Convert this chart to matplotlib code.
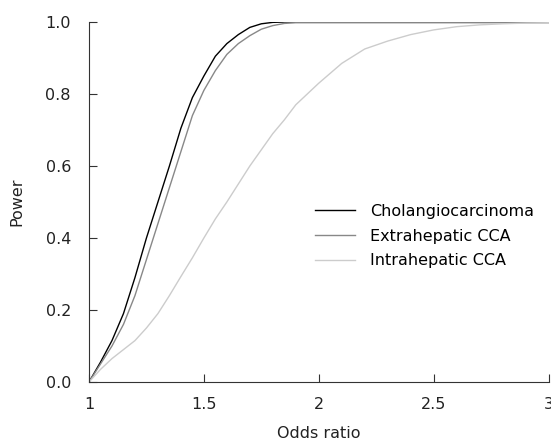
import matplotlib
matplotlib.use('Agg')
import matplotlib.pyplot as plt

odds_ratio = [1.0, 1.05, 1.1, 1.15, 1.2, 1.25, 1.3, 1.35, 1.4, 1.45, 1.5, 1.55, 1.6,
              1.65, 1.7, 1.75, 1.8, 1.85, 1.9, 1.95, 2.0, 2.1, 2.2, 2.3, 2.4, 2.5,
              2.6, 2.7, 2.8, 2.9, 3.0]
power_cca = [0.0, 0.055, 0.115, 0.19, 0.29, 0.40, 0.50, 0.60, 0.705, 0.79, 0.85, 0.905, 0.94,
             0.965, 0.985, 0.995, 0.999, 1.0, 1.0, 1.0, 1.0, 1.0, 1.0, 1.0, 1.0, 1.0,
             1.0, 1.0, 1.0, 1.0, 1.0]
power_extra = [0.0, 0.05, 0.10, 0.16, 0.24, 0.34, 0.44, 0.54, 0.64, 0.74, 0.81, 0.865, 0.91,
               0.94, 0.962, 0.98, 0.99, 0.996, 0.998, 0.998, 0.998, 0.998, 0.998, 0.998, 0.998, 0.998,
               0.998, 0.998, 0.998, 0.998, 0.998]
power_intra = [0.0, 0.035, 0.065, 0.09, 0.115, 0.15, 0.19, 0.24, 0.293, 0.345, 0.40, 0.453, 0.50,
               0.55, 0.60, 0.645, 0.69, 0.728, 0.77, 0.80, 0.83, 0.885, 0.925, 0.947, 0.965, 0.978,
               0.987, 0.992, 0.995, 0.997, 0.998]

labels = ['Cholangiocarcinoma', 'Extrahepatic CCA', 'Intrahepatic CCA']
colors = ['#000000', '#888888', '#cccccc']

plt.rcParams['font.family'] = ['DejaVu Sans']
plt.rcParams['font.size'] = 11.5

fig = plt.figure(figsize=(5.51, 4.41), dpi=100)
ax = fig.add_axes([89 / 551, 59 / 441, 459.5 / 551, 360 / 441])

for series, label, color in zip([power_cca, power_extra, power_intra], labels, colors):
    ax.plot(odds_ratio, series, color=color, lw=1.0, label=label)

ax.set_xlim(1, 3)
ax.set_ylim(0, 1)
ax.set_xticks([1, 1.5, 2, 2.5, 3])
ax.set_xticklabels(['1', '1.5', '2', '2.5', '3'])
ax.set_yticks([0, 0.2, 0.4, 0.6, 0.8, 1.0])
ax.set_yticklabels(['0.0', '0.2', '0.4', '0.6', '0.8', '1.0'])
ax.tick_params(direction='in', length=6, color='#333333', labelcolor='#222222')
ax.tick_params(axis='y', pad=13)
ax.tick_params(axis='x', pad=11)
ax.spines['top'].set_visible(False)
ax.spines['right'].set_visible(False)
for s in ['left', 'bottom']:
    ax.spines[s].set_color('#333333')
ax.set_xlabel('Odds ratio', color='#222222', labelpad=10)
ax.set_ylabel('Power', color='#222222', labelpad=15)

ax.legend(frameon=False, loc='upper left', bbox_to_anchor=(0.546, 0.57),
          bbox_transform=fig.transFigure, handlelength=2.5, handletextpad=0.95,
          labelspacing=0.6, fontsize=11.5)

fig.savefig('out.png', dpi=100)
